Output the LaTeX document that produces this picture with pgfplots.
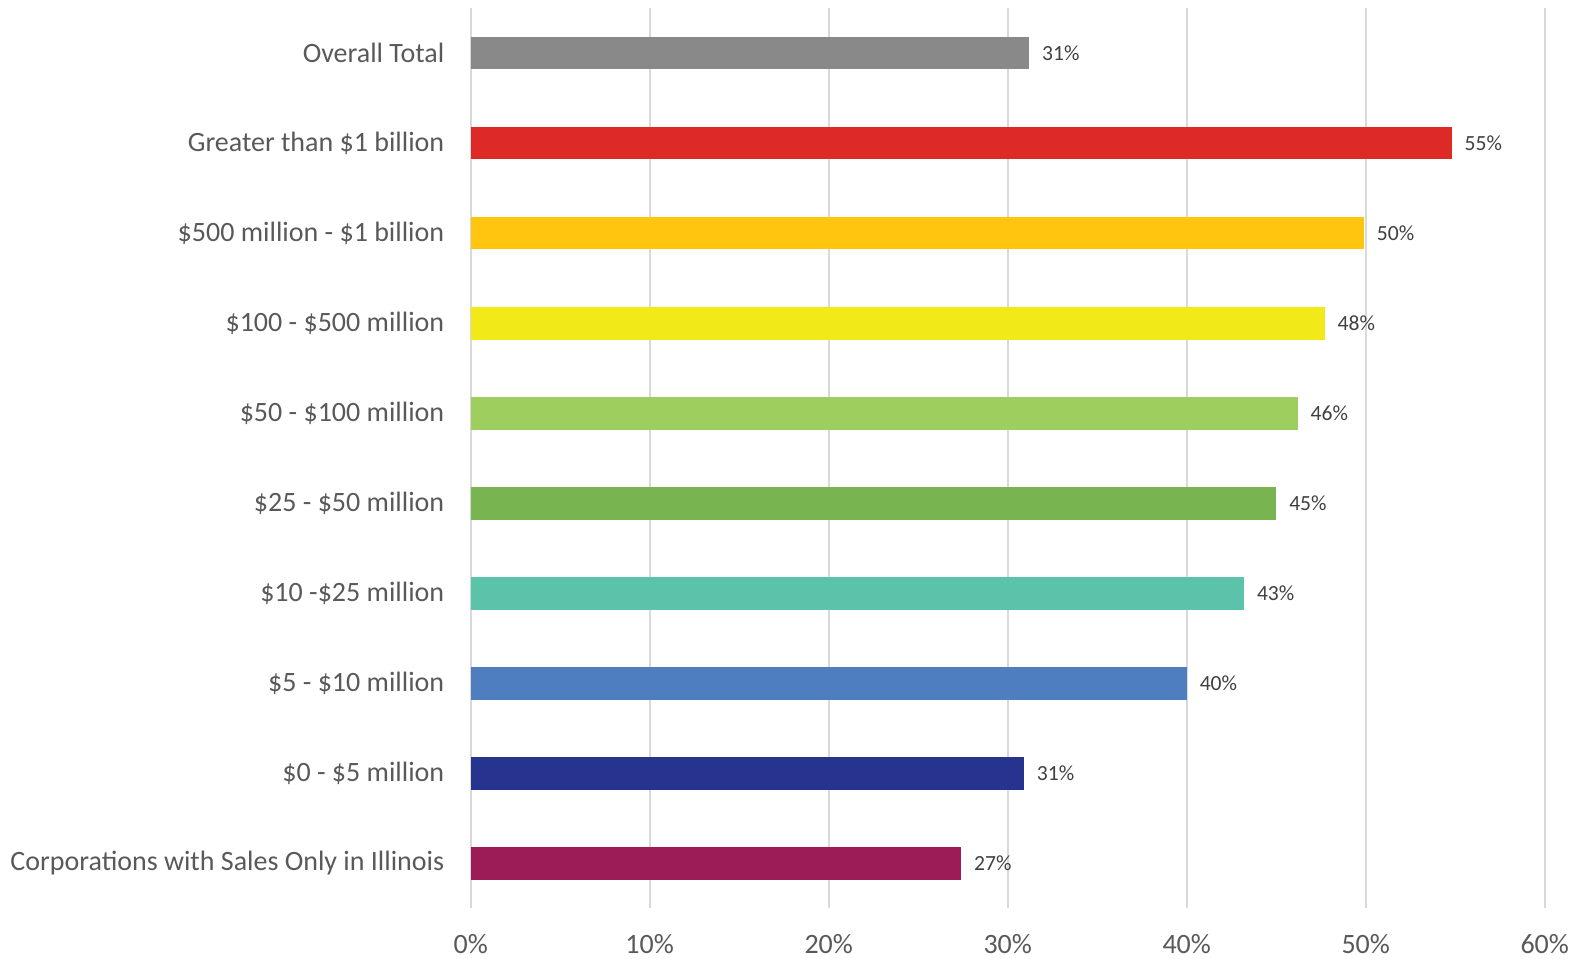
\documentclass[border=0pt]{standalone}
\usepackage{pgfplots}
\pgfplotsset{compat=1.18}
\usepackage{fontspec}
\setmainfont{Carlito}
\definecolor{txt}{HTML}{595959}
\definecolor{lbl}{HTML}{404040}
\definecolor{grd}{HTML}{D9D9D9}
\definecolor{cOverall}{HTML}{898989}
\definecolor{cBil}{HTML}{DE2A26}
\definecolor{cFiveH}{HTML}{FFC50F}
\definecolor{cOneH}{HTML}{F2EA18}
\definecolor{cFifty}{HTML}{9DCE5E}
\definecolor{cTwFive}{HTML}{78B450}
\definecolor{cTen}{HTML}{5BC3A9}
\definecolor{cFive}{HTML}{4F7EC0}
\definecolor{cZero}{HTML}{26348F}
\definecolor{cIll}{HTML}{9B1C57}
\begin{document}
\begin{tikzpicture}
\begin{scope}[overlay]
\begin{axis}[
  scale only axis,
  width=537pt, height=450pt,
  xbar, bar width=0.36,
  every axis plot/.append style={bar shift=0pt, draw=none},
  xmin=0, xmax=60, ymin=-0.5, ymax=9.5,
  xtick={0,10,20,30,40,50,60},
  xticklabels={0\%,10\%,20\%,30\%,40\%,50\%,60\%},
  ytick={0,1,2,3,4,5,6,7,8,9},
  yticklabels={Corporations with Sales Only in Illinois,\$0 - \$5 million,\$5 - \$10 million,\$10 -\$25 million,\$25 - \$50 million,\$50 - \$100 million,\$100 - \$500 million,\$500 million - \$1 billion,Greater than \$1 billion,Overall Total},
  major tick length=0pt,
  axis line style={draw=none},
  xmajorgrids, major grid style={grd, line width=1pt},
  ymajorgrids=false,
  ticklabel style={font=\fontsize{14pt}{16pt}\selectfont, text=txt},
  xticklabel style={yshift=-9.5pt},
  yticklabel style={xshift=-9.7pt},
  point meta=explicit symbolic,
  nodes near coords,
  nodes near coords style={anchor=west, xshift=3pt, font=\fontsize{10.8pt}{12pt}\selectfont, text=lbl},
]
\addplot[fill=cIll] coordinates {(27.4,0) [27\%]};
\addplot[fill=cZero] coordinates {(30.9,1) [31\%]};
\addplot[fill=cFive] coordinates {(40.0,2) [40\%]};
\addplot[fill=cTen] coordinates {(43.2,3) [43\%]};
\addplot[fill=cTwFive] coordinates {(45.0,4) [45\%]};
\addplot[fill=cFifty] coordinates {(46.2,5) [46\%]};
\addplot[fill=cOneH] coordinates {(47.7,6) [48\%]};
\addplot[fill=cFiveH] coordinates {(49.9,7) [50\%]};
\addplot[fill=cBil] coordinates {(54.8,8) [55\%]};
\addplot[fill=cOverall] coordinates {(31.2,9) [31\%]};
\end{axis}
\end{scope}
\path (-235.35pt,-24.85pt) rectangle (555.65pt,454.15pt);
\end{tikzpicture}
\end{document}
